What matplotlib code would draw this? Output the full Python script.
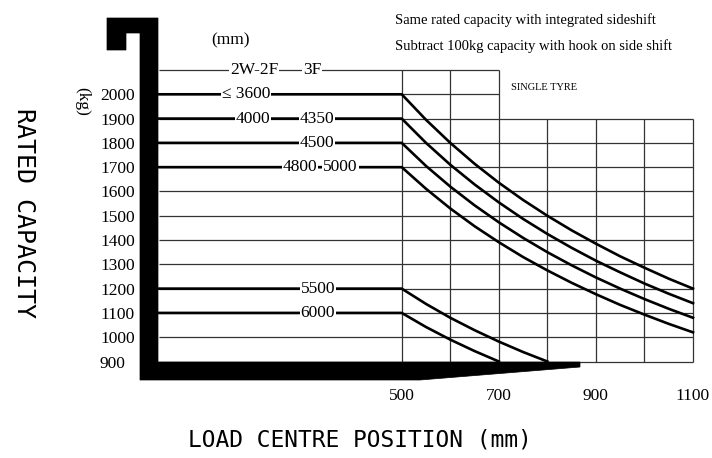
import matplotlib
matplotlib.use("Agg")
import matplotlib.pyplot as plt
from matplotlib.patches import Polygon

# --- Load centre (mm) vs rated capacity (kg) ---
LOAD_CENTRE = [0, 500, 550, 600, 650, 700, 750, 800, 850, 900, 950, 1000, 1050, 1100]
CAP_3600 = [2000, 2000, 1895, 1800, 1714, 1636, 1565, 1500, 1440, 1385, 1333, 1286, 1241, 1200]
CAP_4350 = [1900, 1900, 1800, 1710, 1629, 1555, 1487, 1425, 1368, 1315, 1267, 1221, 1179, 1140]
CAP_4500 = [1800, 1800, 1705, 1620, 1543, 1473, 1409, 1350, 1296, 1246, 1200, 1157, 1117, 1080]
CAP_5000 = [1700, 1700, 1611, 1530, 1457, 1391, 1330, 1275, 1224, 1177, 1133, 1093, 1055, 1020]

LOAD_CENTRE_5500 = [0, 500, 550, 600, 650, 700, 750, 800]
CAP_5500 = [1200, 1200, 1137, 1080, 1029, 982, 939, 900]
LOAD_CENTRE_6000 = [0, 500, 550, 600, 650, 700]
CAP_6000 = [1100, 1100, 1042, 990, 943, 900]

# mast heights written on the lines
MAST_LABELS = ["2W-2F", "3F", "≤ 3600", "4000", "4350", "4500", "4800", "5000", "5500", "6000"]
MAST_LEVELS = [2100, 2100, 2000, 1900, 1900, 1800, 1700, 1700, 1200, 1100]

Y_TICKS = [900, 1000, 1100, 1200, 1300, 1400, 1500, 1600, 1700, 1800, 1900, 2000]
X_TICKS = [500, 700, 900, 1100]

W, H = 712, 458


def px(x, y):
    """pixel position -> figure fraction"""
    return (x / W, 1 - y / H)


fig = plt.figure(figsize=(W / 100, H / 100), dpi=100)
ax = fig.add_axes([159 / W, 1 - 361.5 / H, (693 - 159) / W, (361.5 - 70) / H])
ax.set_xlim(0, 1100)
ax.set_ylim(900, 2100)
for s in ax.spines.values():
    s.set_visible(False)

# --- grid ---
grid_kw = dict(colors="#333333", linewidth=0.9, clip_on=False, zorder=1)
ax.hlines([900, 1000, 1100, 1200, 1300, 1400, 1500, 1600, 1700, 1800, 1900], 0, 1100, **grid_kw)
ax.hlines([2000, 2100], 0, 700, **grid_kw)
ax.vlines([500, 600, 700], 900, 2100, **grid_kw)
ax.vlines([800, 900, 1000, 1100], 900, 1900, **grid_kw)

# --- capacity curves ---
curve_kw = dict(color="black", linewidth=1.9, clip_on=False, zorder=2)
for cap in [CAP_3600, CAP_4350, CAP_4500, CAP_5000]:
    ax.plot(LOAD_CENTRE, cap, **curve_kw)
ax.plot(LOAD_CENTRE_5500, CAP_5500, **curve_kw)
ax.plot(LOAD_CENTRE_6000, CAP_6000, **curve_kw)

# labels sitting on the lines
label_x = [196, 315, 179, 193, 325, 325, 290, 374, 327, 327]
for txt, x, y in zip(MAST_LABELS, label_x, MAST_LEVELS):
    ax.text(x, y, txt, ha="center", va="center", fontsize=12.5,
            family="Liberation Serif", zorder=3,
            bbox=dict(facecolor="white", edgecolor="none", pad=0.6))

# --- ticks ---
ax.set_xticks(X_TICKS)
ax.set_xticklabels([str(v) for v in X_TICKS], family="Liberation Serif", fontsize=12.5)
ax.set_yticks(Y_TICKS)
ax.set_yticklabels([str(v) for v in Y_TICKS], family="Liberation Serif", fontsize=12.5, ha="left")
ax.tick_params(axis="x", length=0, pad=19)
ax.tick_params(axis="y", length=0, pad=42.5)

# --- fork outline ---
fork = [(107, 18), (158, 18), (158, 362), (580, 362), (580, 367), (420, 380),
        (140, 380), (140, 33), (126, 33), (126, 50), (107, 50)]
fig.add_artist(Polygon([px(x, y) for x, y in fork], closed=True, transform=fig.transFigure,
                       facecolor="black", edgecolor="black", linewidth=0.5, zorder=5))

# --- texts ---
fig.text(*px(231, 40), "(mm)", ha="center", va="center", family="Liberation Serif", fontsize=12.5)
fig.text(*px(82, 101), "(kg)", ha="center", va="center", rotation=270,
         family="Liberation Serif", fontsize=12.5)
fig.text(*px(24, 213), "RATED CAPACITY", ha="center", va="center", rotation=270,
         family="DejaVu Sans Mono", fontsize=18)
fig.text(*px(360, 440), "LOAD CENTRE POSITION (mm)", ha="center", va="center",
         family="DejaVu Sans Mono", fontsize=16.5)
fig.text(*px(395, 20), "Same rated capacity with integrated sideshift", ha="left", va="center",
         family="Liberation Serif", fontsize=10.5)
fig.text(*px(395, 46), "Subtract 100kg capacity with hook on side shift", ha="left", va="center",
         family="Liberation Serif", fontsize=10.5)
fig.text(*px(511, 88), "SINGLE TYRE", ha="left", va="center",
         family="Liberation Serif", fontsize=7.5)

fig.savefig("out.png", dpi=100, facecolor="white")
